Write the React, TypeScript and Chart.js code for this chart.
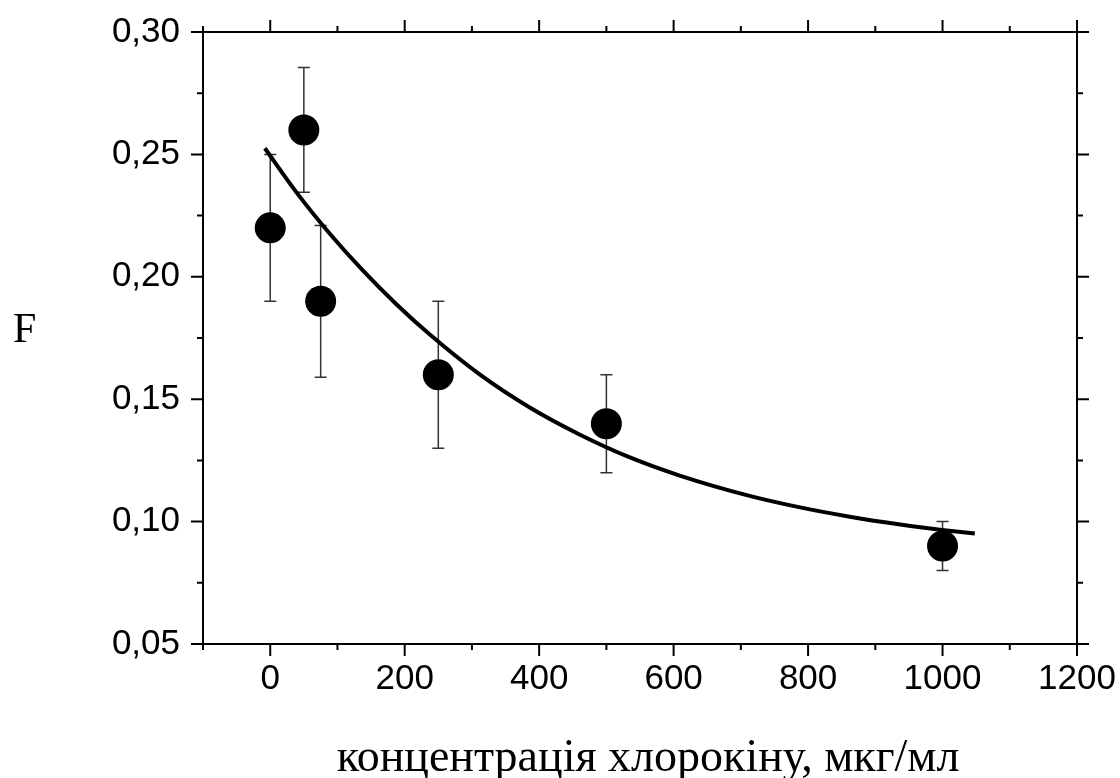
import { useEffect, useRef } from 'react';
import { Chart, registerables } from 'chart.js';

Chart.register(...registerables);

// Measured data (concentration, F) with error bar bounds
const concentrations = [0, 50, 75, 250, 500, 1000];
const fValues = [0.22, 0.26, 0.19, 0.16, 0.14, 0.09];
const errLow = [0.19, 0.2345, 0.159, 0.13, 0.12, 0.08];
const errHigh = [0.25, 0.2855, 0.221, 0.19, 0.16, 0.1];

// Fitted curve, points
const fitX = [-8, 39, 88, 138, 188, 237, 312, 386, 460, 535, 609, 713, 788, 862, 937, 996, 1048];
const fitY = [0.2525, 0.2345, 0.2178, 0.2025, 0.1887, 0.1765, 0.16, 0.1466, 0.1356, 0.1262, 0.1188, 0.1105, 0.1058, 0.102, 0.0988, 0.0967, 0.0951];

// Axes
const xTickLabels = [0, 200, 400, 600, 800, 1000, 1200];
const xMinorTicks = [-100, 100, 300, 500, 700, 900, 1100];
const yTickLabels = [0.05, 0.1, 0.15, 0.2, 0.25, 0.3];
const yMinorTicks = [0.075, 0.125, 0.175, 0.225, 0.275];

const xTitle = 'концентрація хлорокіну, мкг/мл';
const yTitle = 'F';

const framePlugin = {
  id: 'framePlugin',
  beforeDatasetsDraw(chart: any) {
    const { ctx } = chart;
    const xs = chart.scales.x;
    const ys = chart.scales.y;
    ctx.save();
    ctx.strokeStyle = '#333';
    ctx.lineWidth = 1.5;
    concentrations.forEach((c, i) => {
      const px = xs.getPixelForValue(c);
      const pLo = ys.getPixelForValue(errLow[i]);
      const pHi = ys.getPixelForValue(errHigh[i]);
      ctx.beginPath();
      ctx.moveTo(px, pLo);
      ctx.lineTo(px, pHi);
      ctx.moveTo(px - 6, pLo);
      ctx.lineTo(px + 6, pLo);
      ctx.moveTo(px - 6, pHi);
      ctx.lineTo(px + 6, pHi);
      ctx.stroke();
    });
    ctx.restore();
  },
  afterDraw(chart: any) {
    const { ctx, chartArea } = chart;
    const { left, right, top, bottom } = chartArea;
    const xs = chart.scales.x;
    const ys = chart.scales.y;
    ctx.save();
    ctx.strokeStyle = '#000';
    ctx.lineWidth = 2;
    ctx.strokeRect(left, top, right - left, bottom - top);
    ctx.beginPath();
    const xTick = (v: number, len: number) => {
      const px = xs.getPixelForValue(v);
      ctx.moveTo(px, bottom);
      ctx.lineTo(px, bottom + len);
      ctx.moveTo(px, top);
      ctx.lineTo(px, top - len);
    };
    const yTick = (v: number, len: number) => {
      const py = ys.getPixelForValue(v);
      ctx.moveTo(left, py);
      ctx.lineTo(left - len, py);
      ctx.moveTo(right, py);
      ctx.lineTo(right + len, py);
    };
    xTickLabels.forEach((v) => xTick(v, 12));
    xMinorTicks.forEach((v) => xTick(v, 6));
    yTickLabels.forEach((v) => yTick(v, 12));
    yMinorTicks.forEach((v) => yTick(v, 6));
    ctx.stroke();

    ctx.fillStyle = '#000';
    ctx.textBaseline = 'alphabetic';
    ctx.font = '42px "Liberation Serif"';
    ctx.textAlign = 'left';
    ctx.fillText(yTitle, 13, 342);
    ctx.font = '46px "Liberation Serif"';
    ctx.textAlign = 'center';
    ctx.fillText(xTitle, 648, 771);
    ctx.restore();
  },
};

export default function App() {
  const ref = useRef<HTMLCanvasElement | null>(null);

  useEffect(() => {
    if (!ref.current) return;
    const chart = new Chart(ref.current, {
      type: 'scatter',
      data: {
        datasets: [
          {
            type: 'scatter',
            data: concentrations.map((c, i) => ({ x: c, y: fValues[i] })),
            backgroundColor: '#000',
            borderWidth: 0,
            pointRadius: 15.5,
            pointHoverRadius: 15.5,
          },
          {
            type: 'line',
            data: fitX.map((x, i) => ({ x, y: fitY[i] })),
            borderColor: '#000',
            borderWidth: 4,
            pointRadius: 0,
            fill: false,
            cubicInterpolationMode: 'monotone',
          } as any,
        ],
      },
      options: {
        responsive: false,
        animation: false,
        layout: { padding: { top: 32, right: 43, left: 0, bottom: 0 } },
        plugins: { legend: { display: false }, tooltip: { enabled: false } },
        scales: {
          x: {
            type: 'linear',
            min: -100,
            max: 1200,
            grid: { display: false, drawTicks: false },
            border: { display: false },
            afterBuildTicks: (s: any) => {
              s.ticks = xTickLabels.map((v) => ({ value: v }));
            },
            afterFit: (s: any) => {
              s.height = 134;
              s.paddingLeft = 0;
              s.paddingRight = 0;
            },
            ticks: {
              autoSkip: false,
              maxRotation: 0,
              padding: 14,
              color: '#000',
              font: { family: '"Liberation Sans"', size: 35 },
              callback: (v: any) => String(v),
            },
          },
          y: {
            type: 'linear',
            min: 0.05,
            max: 0.3,
            grid: { display: false, drawTicks: false },
            border: { display: false },
            afterBuildTicks: (s: any) => {
              s.ticks = yTickLabels.map((v) => ({ value: v }));
            },
            afterFit: (s: any) => {
              s.width = 203;
              s.paddingTop = 0;
              s.paddingBottom = 0;
            },
            ticks: {
              autoSkip: false,
              padding: 23,
              color: '#000',
              font: { family: '"Liberation Sans"', size: 35 },
              callback: (v: any) => Number(v).toFixed(2).replace('.', ','),
            },
          },
        },
      },
      plugins: [framePlugin],
    });
    return () => chart.destroy();
  }, []);

  return (
    <div style={{ position: 'fixed', left: 0, top: 0, width: 1120, height: 778, background: '#fff' }}>
      <canvas ref={ref} width={1120} height={778} />
    </div>
  );
}
